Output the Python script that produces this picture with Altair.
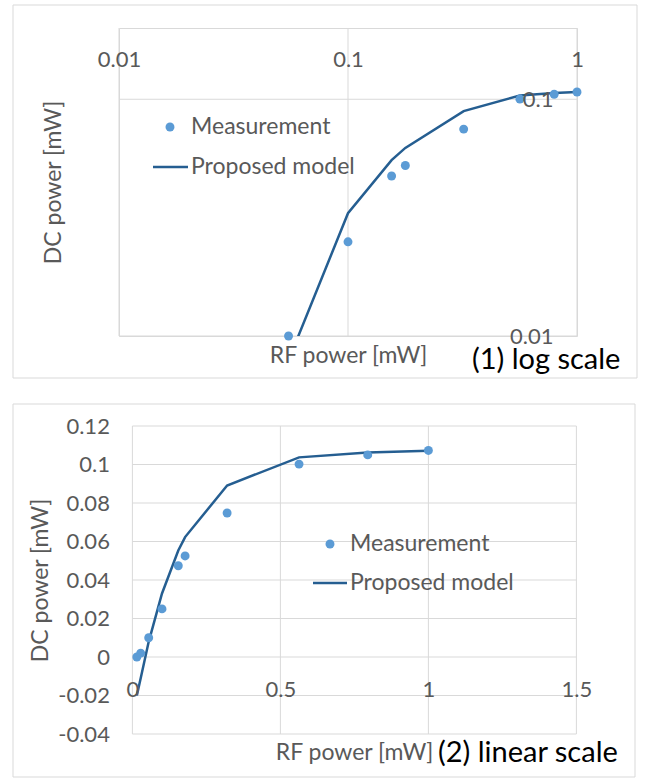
import altair as alt
import pandas as pd

# Measured and modelled DC output power versus RF input power
rf_power = [0.015, 0.028, 0.055, 0.1, 0.155, 0.178, 0.32, 0.563, 0.795, 1.0]
measured_dc = [0.0, 0.002, 0.010, 0.025, 0.0474, 0.0525, 0.0748, 0.1002, 0.1050, 0.1073]
model_dc = [-0.020, -0.011, 0.0079, 0.033, 0.0553, 0.0623, 0.0891, 0.1037, 0.1062, 0.1072]
series_names = ["Measurement", "Proposed model"]
panel_labels = ["(1) log scale", "(2) linear scale"]

# Tick values for both panels
log_x_ticks = [0.01, 0.1, 1]
log_y_ticks = [0.01, 0.1]
lin_x_ticks = [0, 0.5, 1, 1.5]
lin_y_ticks = [-0.04, -0.02, 0, 0.02, 0.04, 0.06, 0.08, 0.1, 0.12]

FONT = "Lato"
GREY = "#595959"
GRID = "#d9d9d9"
POINT_BLUE = "#5b9bd5"
LINE_BLUE = "#255e91"
LABEL_SIZE = 22
TITLE_SIZE = 23

n = len(rf_power)
records = pd.DataFrame({
    "rf": rf_power + rf_power,
    "dc": measured_dc + model_dc,
    "series": [series_names[0]] * n + [series_names[1]] * n,
})
one_row = pd.DataFrame({"k": [0]})

# Both views share one origin; the linear panel's plot area is inset by LIN_INSET
W, H = 458, 308
LIN_INSET = 13.4
LIN_RIGHT = 457.4


def x_log():
    return alt.X(
        "rf:Q",
        scale=alt.Scale(type="log", domain=[0.01, 1], nice=False),
        axis=alt.Axis(
            values=log_x_ticks, format="~g", orient="bottom", offset=-H,
            grid=False, domain=False, ticks=False, tickSize=0,
            labelPadding=31, labelBaseline="middle", labelFlush=False,
            labelOverlap=False, title="RF power [mW]", titleX=229, titleY=327,
            titleBaseline="middle", titleAlign="center", zindex=1,
        ),
    )


def y_log():
    return alt.Y(
        "dc:Q",
        scale=alt.Scale(type="log", domain=[0.01, 0.2], nice=False),
        axis=alt.Axis(
            values=log_y_ticks, format="~g", orient="left", offset=-W,
            grid=False, domain=False, ticks=False, tickSize=0,
            labelPadding=24, labelOverlap=False, labelFlush=False,
            title="DC power [mW]", titleX=-524, titleY=154, titleAngle=270,
            titleBaseline="middle", titleAlign="center", zindex=1,
        ),
    )


def x_lin():
    return alt.X(
        "rf:Q",
        scale=alt.Scale(domain=[0, 1.5], range=[LIN_INSET, LIN_RIGHT], nice=False, zero=False),
        axis=alt.Axis(
            values=lin_x_ticks, format="~g", orient="bottom", offset=-77,
            grid=False, domain=False, ticks=False, tickSize=0,
            labelPadding=32, labelBaseline="middle", labelFlush=False,
            labelOverlap=False, title="RF power [mW]", titleX=235, titleY=95,
            titleBaseline="middle", titleAlign="center", zindex=1,
        ),
    )


def y_lin():
    return alt.Y(
        "dc:Q",
        scale=alt.Scale(domain=[-0.04, 0.12], nice=False, zero=False),
        axis=alt.Axis(
            values=lin_y_ticks, labelExpr="toString(round(datum.value * 100) / 100)",
            orient="left", offset=-LIN_INSET, grid=False, domain=False, ticks=False,
            tickSize=0, labelPadding=23, labelOverlap=False, labelFlush=False,
            title="DC power [mW]", titleX=-92, titleY=154, titleAngle=270,
            titleBaseline="middle", titleAlign="center", zindex=1,
        ),
    )


def frame(x0, x1, y0, y1):
    return alt.Chart(one_row).mark_rect(
        fillOpacity=0, stroke=GRID, strokeWidth=1
    ).encode(x=alt.value(x0), x2=alt.value(x1), y=alt.value(y0), y2=alt.value(y1))


def legend(px, py, lx0, lx1, ly, tx):
    dot = alt.Chart(one_row).mark_point(
        filled=True, size=80, opacity=1, color=POINT_BLUE
    ).encode(x=alt.value(px), y=alt.value(py))
    dash = alt.Chart(one_row).mark_rule(
        color=LINE_BLUE, strokeWidth=2.5
    ).encode(x=alt.value(lx0), x2=alt.value(lx1), y=alt.value(ly))
    t1 = alt.Chart(one_row).mark_text(
        align="left", baseline="middle", font=FONT, fontSize=TITLE_SIZE, color=GREY
    ).encode(x=alt.value(tx), y=alt.value(py), text=alt.value(series_names[0]))
    t2 = alt.Chart(one_row).mark_text(
        align="left", baseline="middle", font=FONT, fontSize=TITLE_SIZE, color=GREY
    ).encode(x=alt.value(tx), y=alt.value(ly), text=alt.value(series_names[1]))
    return [dot, dash, t1, t2]


def panel_label(text, x, y):
    return alt.Chart(one_row).mark_text(
        align="left", baseline="alphabetic", font=FONT, fontSize=29, color="#000000"
    ).encode(x=alt.value(x), y=alt.value(y), text=alt.value(text))


is_model = alt.datum.series == series_names[1]
is_meas = alt.datum.series == series_names[0]

# ---- (1) log-log panel ----
top_grid_x = alt.Chart(pd.DataFrame({"rf": log_x_ticks})).mark_rule(
    color=GRID, strokeWidth=1).encode(x=x_log())
top_grid_y = alt.Chart(pd.DataFrame({"dc": log_y_ticks})).mark_rule(
    color=GRID, strokeWidth=1).encode(y=y_log())
top_line = alt.Chart(records).transform_filter(is_model & (alt.datum.dc > 0)).mark_line(
    clip=True, color=LINE_BLUE, strokeWidth=2.5).encode(x=x_log(), y=y_log(), order="rf:Q")
top_points = alt.Chart(records).transform_filter(is_meas & (alt.datum.dc >= 0.01)).mark_point(
    filled=True, size=80, opacity=1, color=POINT_BLUE).encode(x=x_log(), y=y_log())

top = alt.layer(
    frame(-106, 518, -23, 350),
    top_grid_x, top_grid_y, top_line, top_points,
    *legend(51, 99, 34, 69, 139, 72),
    panel_label(panel_labels[0], 353, 341),
).properties(width=W, height=H)

# ---- (2) linear panel ----
bot_grid_x = alt.Chart(pd.DataFrame({"rf": lin_x_ticks})).mark_rule(
    color=GRID, strokeWidth=1).encode(x=x_lin())
bot_grid_y = alt.Chart(pd.DataFrame({
    "dc": lin_y_ticks,
    "rf": [lin_x_ticks[0]] * len(lin_y_ticks),
    "rf_end": [lin_x_ticks[-1]] * len(lin_y_ticks),
})).mark_rule(color=GRID, strokeWidth=1).encode(x=x_lin(), x2="rf_end:Q", y=y_lin())
bot_line = alt.Chart(records).transform_filter(is_model).mark_line(
    color=LINE_BLUE, strokeWidth=2.5).encode(x=x_lin(), y=y_lin(), order="rf:Q")
bot_points = alt.Chart(records).transform_filter(is_meas).mark_point(
    filled=True, size=80, opacity=1, color=POINT_BLUE).encode(x=x_lin(), y=y_lin())

bottom = alt.layer(
    frame(-106, 516, -22, 351),
    bot_grid_x, bot_grid_y, bot_line, bot_points,
    *legend(211, 118, 194, 228, 157, 231),
    panel_label(panel_labels[1], 319, 336),
).properties(width=W, height=H, view=alt.ViewBackground(strokeOpacity=0))

chart = alt.vconcat(top, bottom, spacing=24).properties(
    padding={"left": 12, "top": 4, "right": 0, "bottom": 0},
    background="white",
).configure_view(
    stroke=GRID, strokeWidth=1
).configure_axis(
    labelFont=FONT, titleFont=FONT, labelColor=GREY, titleColor=GREY,
    labelFontSize=LABEL_SIZE, titleFontSize=TITLE_SIZE, titleFontWeight="normal",
)

chart.save("out.html", embed_options={"renderer": "svg", "actions": False})
